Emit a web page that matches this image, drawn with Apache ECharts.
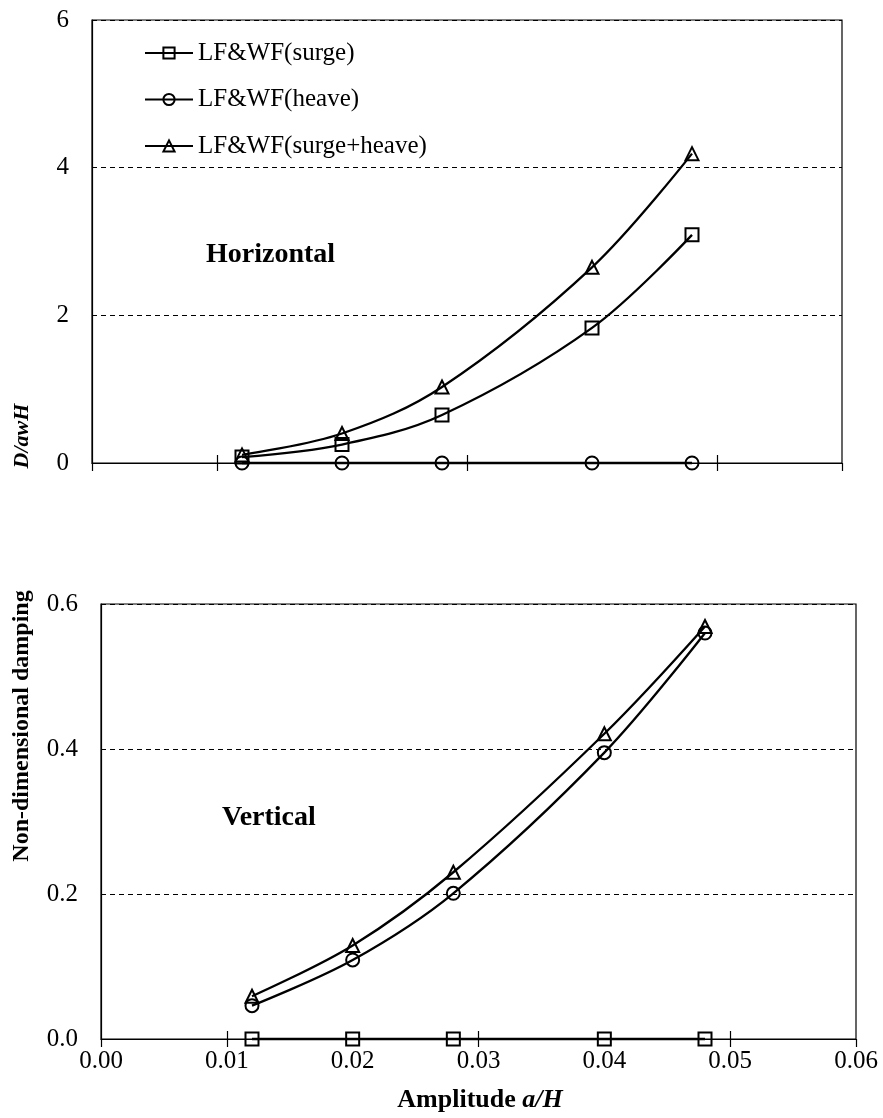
<!DOCTYPE html>
<html><head><meta charset="utf-8">
<script src="https://cdn.jsdelivr.net/npm/echarts@6/dist/echarts.min.js"></script>
<style>html,body{margin:0;padding:0;background:#fff}#c{width:883px;height:1118px}</style>
</head><body><div id="c"></div>
<script>
// ---- data ----
const amplitude = [0.012, 0.020, 0.028, 0.040, 0.048];
const seriesNames = ['LF&WF(surge)', 'LF&WF(heave)', 'LF&WF(surge+heave)'];
const horizSurge = [0.08, 0.25, 0.65, 1.83, 3.09];
const horizHeave = [0, 0, 0, 0, 0];
const horizBoth  = [0.11, 0.40, 1.03, 2.65, 4.19];
const vertSurge  = [0, 0, 0, 0, 0];
const vertHeave  = [0.046, 0.109, 0.201, 0.395, 0.560];
const vertBoth   = [0.059, 0.129, 0.230, 0.421, 0.569];
const crossTicks = [0.01, 0.03, 0.05];
const endTicks = [0, 0.06];
const panelTexts = ['Horizontal', 'Vertical'];
const yTitleTop = 'D/awH';
const yTitleBottom = 'Non-dimensional damping';

// ---- styling helpers ----
const FONT = '"Liberation Serif", "Times New Roman", serif';
const symbols = ['rect', 'circle', 'triangle'];
function pairs(ys) { return amplitude.map((x, i) => [x, ys[i]]); }

function mkSeries(idx, ys, axisIdx) {
  return {
    type: 'line', name: seriesNames[idx], data: pairs(ys),
    xAxisIndex: axisIdx, yAxisIndex: axisIdx === 0 ? 0 : 1,
    smooth: 0.35, clip: false,
    symbol: symbols[idx], symbolSize: 13,
    lineStyle: { color: '#000', width: 2.3 },
    itemStyle: { color: 'rgba(255,255,255,0)', borderColor: '#000', borderWidth: 2 },
    emphasis: { disabled: true }, z: 3
  };
}

function xAxes(gridIndex, showLabels) {
  return [
    { type: 'value', gridIndex, min: 0, max: 0.06, interval: 0.01, position: 'bottom',
      axisLine: { show: true, onZero: false, lineStyle: { color: '#000', width: 1.2 } },
      axisTick: { show: true, inside: true, length: 8, customValues: crossTicks, lineStyle: { color: '#000', width: 1.2 } },
      axisLabel: { show: showLabels, margin: 10, fontFamily: FONT, fontSize: 25, color: '#000',
                   formatter: v => v.toFixed(2) },
      splitLine: { show: false } },
    { type: 'value', gridIndex, min: 0, max: 0.06, position: 'bottom',
      axisLine: { show: false, onZero: false },
      axisTick: { show: true, inside: false, length: 8, customValues: crossTicks.concat(endTicks), lineStyle: { color: '#000', width: 1.2 } },
      axisLabel: { show: false }, splitLine: { show: false } }
  ];
}

const option = {
  animation: false,
  backgroundColor: '#fff',
  grid: [
    { left: 92, top: 20, width: 750, height: 443, show: true, borderColor: '#000', borderWidth: 1.2, containLabel: false },
    { left: 101, top: 604, width: 755, height: 435, show: true, borderColor: '#000', borderWidth: 1.2, containLabel: false }
  ],
  xAxis: xAxes(0, false).concat(xAxes(1, true)),
  yAxis: [
    { type: 'value', gridIndex: 0, min: 0, max: 6, interval: 2,
      axisLine: { show: true, lineStyle: { color: '#000', width: 1.2 } }, axisTick: { show: false },
      axisLabel: { margin: 23, fontFamily: FONT, fontSize: 25, color: '#000', formatter: v => String(v) },
      splitLine: { show: true, lineStyle: { color: '#000', width: 1, type: [5, 4] } } },
    { type: 'value', gridIndex: 1, min: 0, max: 0.6, interval: 0.2,
      axisLine: { show: true, lineStyle: { color: '#000', width: 1.2 } }, axisTick: { show: false },
      axisLabel: { margin: 23, fontFamily: FONT, fontSize: 25, color: '#000', formatter: v => v.toFixed(1) },
      splitLine: { show: true, lineStyle: { color: '#000', width: 1, type: [5, 4] } } }
  ],
  legend: {
    orient: 'vertical', left: 144, top: 40, padding: 0,
    itemWidth: 48, itemHeight: 14, itemGap: 20.5,
    data: seriesNames,
    textStyle: { fontFamily: FONT, fontSize: 25, color: '#000', lineHeight: 26 },
    selectedMode: false
  },
  series: [
    mkSeries(0, horizSurge, 0), mkSeries(1, horizHeave, 0), mkSeries(2, horizBoth, 0),
    mkSeries(0, vertSurge, 2), mkSeries(1, vertHeave, 2), mkSeries(2, vertBoth, 2)
  ],
  graphic: [
    { type: 'text', x: 206, y: 255, style: { text: panelTexts[0], fontFamily: FONT, fontSize: 28, fontWeight: 'bold', fill: '#000', verticalAlign: 'middle' } },
    { type: 'text', x: 222, y: 818, style: { text: panelTexts[1], fontFamily: FONT, fontSize: 28, fontWeight: 'bold', fill: '#000', verticalAlign: 'middle' } },
    { type: 'text', x: 480, y: 1100, style: {
        text: '{b|Amplitude }{i|a/H}', align: 'center', verticalAlign: 'middle',
        rich: { b: { fontFamily: FONT, fontSize: 26, fontWeight: 'bold', fill: '#000' },
                i: { fontFamily: FONT, fontSize: 26, fontWeight: 'bold', fontStyle: 'italic', fill: '#000' } } } },
    { type: 'text', x: 22, y: 436, rotation: Math.PI / 2, style: {
        text: yTitleTop, align: 'center', verticalAlign: 'middle', fontFamily: FONT, fontSize: 22, fontWeight: 'bold', fontStyle: 'italic', fill: '#000' } },
    { type: 'text', x: 22, y: 726, rotation: Math.PI / 2, style: {
        text: yTitleBottom, align: 'center', verticalAlign: 'middle', fontFamily: FONT, fontSize: 24, fontWeight: 'bold', fill: '#000' } }
  ]
};
const chart = echarts.init(document.getElementById('c'), null, { renderer: 'canvas' });
chart.setOption(option);
</script></body></html>
